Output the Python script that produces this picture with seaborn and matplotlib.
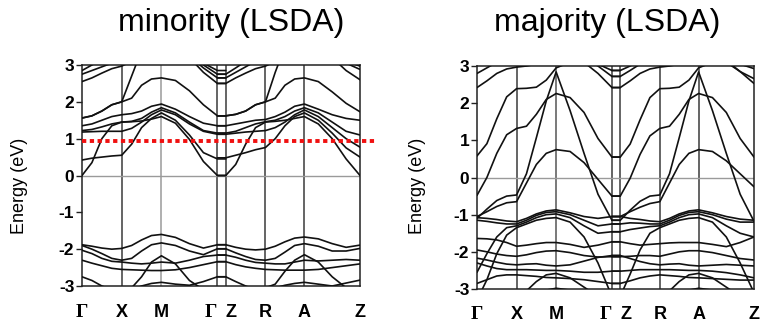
import matplotlib
matplotlib.use("Agg")
import matplotlib.pyplot as plt
import numpy as np
import pandas as pd
import seaborn as sns

# ---- high-symmetry path -------------------------------------------------
KPOINT_LABELS = ["Γ", "X", "M", "Γ", "Z", "R", "A", "Z"]
KPOINT_POS = [0.0, 1.0, 2.0, 3.41, 3.62, 4.62, 5.60, 7.00]
Y_TICKS = [-3, -2, -1, 0, 1, 2, 3]
FERMI_MARK = 0.93  # dotted level on the minority panel

# ---- minority spin: branch Γ-X-M-Γ (node, ¼, ½, ¾, node, ...) -----------
min_a1 = [0.00, 0.35, 1.00, 1.35, 1.45, 1.46, 1.48, 1.53, 1.60, 1.42, 0.98, 0.38, 0.00]
min_a2 = [0.42, 0.47, 0.50, 0.53, 0.55, 0.85, 1.30, 1.55, 1.70, 1.50, 1.10, 0.62, 0.45]
min_a3 = [1.18, 1.19, 1.20, 1.20, 1.20, 1.28, 1.45, 1.65, 1.78, 1.65, 1.40, 1.20, 1.12]
min_a4 = [1.22, 1.25, 1.32, 1.40, 1.45, 1.47, 1.55, 1.72, 1.84, 1.70, 1.45, 1.22, 1.15]
min_a5 = [1.35, 1.40, 1.50, 1.60, 1.65, 1.68, 1.75, 1.88, 1.94, 1.80, 1.60, 1.42, 1.35]
min_a6 = [1.56, 1.62, 1.75, 1.92, 2.00, 2.10, 2.45, 2.62, 2.65, 2.58, 2.30, 1.92, 1.62]
min_a7 = [1.56, 1.62, 1.75, 1.92, 2.00, 2.70, 3.40, 3.70, 3.80, 3.70, 3.40, 3.05, 2.85]
min_a8 = [2.55, 2.65, 2.78, 2.90, 2.97, 3.10, 3.30, 3.50, 3.60, 3.50, 3.20, 2.80, 2.50]
min_a9 = [2.75, 2.85, 2.95, 3.05, 3.15, 3.30, 3.50, 3.60, 3.60, 3.50, 3.25, 2.92, 2.65]
min_a10 = [2.85, 3.00, 3.15, 3.30, 3.40, 3.50, 3.60, 3.60, 3.60, 3.50, 3.30, 3.00, 2.75]
min_v1 = [-1.88, -1.92, -1.97, -2.00, -1.98, -1.90, -1.75, -1.63, -1.60, -1.68, -1.85, -1.97, -1.88]
min_v2 = [-1.90, -2.00, -2.12, -2.25, -2.30, -2.25, -2.05, -1.88, -1.83, -1.90, -2.05, -2.15, -1.99]
min_v3 = [-2.03, -2.12, -2.25, -2.33, -2.35, -2.38, -2.40, -2.38, -2.35, -2.38, -2.30, -2.20, -2.16]
min_v4 = [-2.30, -2.38, -2.45, -2.52, -2.55, -2.56, -2.57, -2.58, -2.58, -2.56, -2.50, -2.42, -2.34]
min_v5 = [-2.75, -2.85, -3.00, -3.10, -3.15, -3.10, -3.00, -2.93, -2.90, -2.95, -2.98, -2.88, -2.75]
min_v6 = [-3.30, -3.30, -3.25, -3.20, -3.10, -3.05, -2.75, -2.35, -2.18, -2.40, -2.85, -3.10, -3.20]

# ---- minority spin: branch Z-R-A-Z ---------------------------------------
min_b1 = [0.00, 0.30, 0.85, 1.30, 1.45, 1.47, 1.50, 1.55, 1.60, 1.40, 1.00, 0.45, 0.00]
min_b2 = [0.48, 0.55, 0.62, 0.70, 0.76, 1.00, 1.35, 1.60, 1.70, 1.50, 1.15, 0.75, 0.50]
min_b3 = [1.12, 1.15, 1.18, 1.20, 1.22, 1.30, 1.45, 1.65, 1.78, 1.60, 1.30, 1.00, 0.77]
min_b4 = [1.15, 1.20, 1.30, 1.40, 1.46, 1.50, 1.60, 1.75, 1.84, 1.70, 1.45, 1.20, 1.10]
min_b5 = [1.35, 1.40, 1.45, 1.50, 1.52, 1.60, 1.72, 1.88, 1.94, 1.80, 1.65, 1.55, 1.50]
min_b6 = [1.62, 1.66, 1.75, 1.92, 2.00, 2.10, 2.45, 2.62, 2.65, 2.55, 2.27, 1.96, 1.73]
min_b7 = [1.62, 1.66, 1.75, 1.92, 2.00, 2.80, 3.50, 3.80, 3.80, 3.70, 3.40, 3.05, 2.88]
min_b8 = [2.50, 2.65, 2.78, 2.90, 2.97, 3.10, 3.30, 3.50, 3.60, 3.50, 3.20, 2.85, 2.60]
min_b9 = [2.65, 2.80, 2.95, 3.10, 3.20, 3.35, 3.50, 3.60, 3.60, 3.50, 3.25, 3.10, 2.97]
min_b10 = [2.75, 2.92, 3.10, 3.30, 3.40, 3.50, 3.60, 3.60, 3.60, 3.50, 3.30, 3.15, 3.05]
min_w1 = [-1.88, -1.95, -2.00, -2.02, -2.00, -1.92, -1.80, -1.70, -1.67, -1.72, -1.85, -1.95, -1.89]
min_w2 = [-1.99, -2.10, -2.20, -2.28, -2.30, -2.25, -2.08, -1.90, -1.85, -1.92, -2.05, -2.05, -1.98]
min_w3 = [-2.16, -2.22, -2.30, -2.36, -2.38, -2.40, -2.40, -2.35, -2.30, -2.32, -2.30, -2.28, -2.30]
min_w4 = [-2.34, -2.42, -2.48, -2.52, -2.55, -2.56, -2.57, -2.57, -2.57, -2.55, -2.50, -2.45, -2.40]
min_w5 = [-2.75, -2.88, -3.00, -3.10, -3.12, -3.05, -2.98, -2.93, -2.90, -2.95, -3.00, -2.92, -2.84]
min_w6 = [-3.20, -3.25, -3.20, -3.15, -3.05, -2.95, -2.60, -2.30, -2.15, -2.35, -2.75, -3.05, -3.20]

# ---- majority spin: branch Γ-X-M-Γ ---------------------------------------
maj_p1 = [0.58, 0.91, 1.58, 2.17, 2.39, 2.40, 2.43, 2.62, 2.95, 3.10, 3.20, 3.05, 2.88]
maj_p2 = [-0.48, 0.00, 0.65, 1.15, 1.32, 1.38, 1.70, 2.10, 2.26, 2.15, 1.75, 1.05, 0.55]
maj_p3 = [-1.05, -0.92, -0.78, -0.68, -0.65, -0.15, 0.35, 0.65, 0.75, 0.70, 0.40, -0.05, -0.50]
maj_p4 = [-1.10, -0.85, -0.62, -0.50, -0.47, 0.10, 1.07, 2.06, 2.84, 1.80, 0.65, -0.45, -1.15]
maj_p5 = [2.42, 2.60, 2.80, 2.92, 2.97, 3.00, 3.05, 3.20, 3.30, 3.30, 3.20, 3.00, 2.72]
maj_p6 = [2.80, 2.95, 3.10, 3.20, 3.30, 3.40, 3.40, 3.40, 3.40, 3.30, 3.10, 2.80, 2.42]
maj_q1 = [-1.08, -1.10, -1.13, -1.17, -1.19, -1.10, -0.98, -0.90, -0.87, -0.95, -1.05, -1.10, -1.05]
maj_q2 = [-1.15, -1.18, -1.22, -1.25, -1.25, -1.15, -1.02, -0.94, -0.92, -1.00, -1.15, -1.30, -1.25]
maj_q3 = [-2.55, -2.05, -1.60, -1.35, -1.30, -1.20, -1.08, -1.00, -0.98, -1.08, -1.30, -1.50, -1.46]
maj_q4 = [-3.30, -2.75, -2.05, -1.55, -1.35, -1.25, -1.15, -1.10, -1.08, -1.20, -1.60, -2.30, -3.20]
maj_q5 = [-1.64, -1.65, -1.68, -1.75, -1.85, -1.82, -1.78, -1.75, -1.75, -1.80, -1.88, -1.82, -1.73]
maj_q6 = [-1.95, -2.00, -2.06, -2.10, -2.12, -2.08, -2.02, -1.98, -1.97, -2.02, -2.10, -2.14, -2.13]
maj_q7 = [-2.17, -2.22, -2.28, -2.33, -2.35, -2.33, -2.32, -2.36, -2.38, -2.35, -2.25, -2.15, -2.10]
maj_q8 = [-2.30, -2.38, -2.45, -2.48, -2.48, -2.48, -2.49, -2.50, -2.50, -2.52, -2.55, -2.55, -2.52]
maj_q9 = [-2.85, -2.75, -2.65, -2.62, -2.62, -2.64, -2.66, -2.69, -2.70, -2.72, -2.75, -2.80, -2.85]
maj_q10 = [-3.30, -3.30, -3.30, -3.25, -3.20, -3.05, -2.80, -2.62, -2.58, -2.70, -2.95, -3.20, -3.30]
maj_q11 = [-3.40, -3.40, -3.40, -3.40, -3.40, -3.30, -3.15, -3.03, -2.98, -3.03, -3.20, -3.40, -3.40]

# ---- majority spin: branch Z-R-A-Z ---------------------------------------
maj_r1 = [0.55, 0.90, 1.55, 2.15, 2.39, 2.40, 2.43, 2.62, 2.95, 3.10, 3.20, 3.05, 2.93]
maj_r2 = [-0.50, -0.02, 0.62, 1.12, 1.32, 1.38, 1.70, 2.10, 2.26, 2.15, 1.75, 1.05, 0.55]
maj_r3 = [-1.05, -0.92, -0.80, -0.70, -0.65, -0.15, 0.35, 0.65, 0.75, 0.70, 0.45, 0.10, -0.25]
maj_r4 = [-1.15, -0.88, -0.64, -0.50, -0.47, 0.10, 1.07, 2.06, 2.84, 1.80, 0.65, -0.45, -1.18]
maj_r5 = [2.42, 2.60, 2.80, 2.92, 2.97, 3.00, 3.05, 3.20, 3.30, 3.30, 3.15, 2.85, 2.53]
maj_r6 = [2.72, 2.88, 3.05, 3.20, 3.30, 3.40, 3.40, 3.40, 3.40, 3.30, 3.10, 2.85, 2.66]
maj_r7 = [2.88, 3.00, 3.15, 3.30, 3.40, 3.40, 3.40, 3.40, 3.40, 3.30, 3.15, 3.05, 3.05]
maj_s1 = [-1.05, -1.10, -1.13, -1.17, -1.19, -1.10, -0.98, -0.90, -0.87, -0.95, -1.05, -1.12, -1.15]
maj_s2 = [-1.25, -1.22, -1.23, -1.25, -1.25, -1.15, -1.02, -0.94, -0.92, -1.00, -1.12, -1.20, -1.20]
maj_s3 = [-1.46, -1.40, -1.36, -1.32, -1.30, -1.20, -1.08, -1.00, -0.98, -1.08, -1.30, -1.50, -1.60]
maj_s4 = [-3.20, -2.60, -1.95, -1.50, -1.35, -1.25, -1.15, -1.10, -1.08, -1.20, -1.60, -2.30, -3.10]
maj_s5 = [-1.73, -1.78, -1.82, -1.80, -1.78, -1.76, -1.75, -1.75, -1.75, -1.80, -1.86, -1.75, -1.60]
maj_s6 = [-2.13, -2.12, -2.10, -2.10, -2.12, -2.06, -2.00, -1.97, -1.97, -2.02, -2.10, -2.18, -2.22]
maj_s7 = [-2.10, -2.18, -2.26, -2.32, -2.35, -2.33, -2.32, -2.36, -2.38, -2.36, -2.34, -2.36, -2.38]
maj_s8 = [-2.52, -2.50, -2.48, -2.48, -2.48, -2.48, -2.49, -2.50, -2.50, -2.52, -2.56, -2.62, -2.70]
maj_s9 = [-2.85, -2.78, -2.70, -2.65, -2.62, -2.64, -2.66, -2.69, -2.70, -2.72, -2.74, -2.76, -2.76]
maj_s10 = [-3.30, -3.30, -3.30, -3.25, -3.20, -3.05, -2.80, -2.62, -2.58, -2.70, -2.95, -3.20, -3.30]
maj_s11 = [-3.40, -3.40, -3.40, -3.40, -3.40, -3.30, -3.15, -3.03, -2.98, -3.03, -3.20, -3.40, -3.40]

MIN_FIRST = [min_a1, min_a2, min_a3, min_a4, min_a5, min_a6, min_a7, min_a8, min_a9, min_a10,
             min_v1, min_v2, min_v3, min_v4, min_v5, min_v6]
MIN_SECOND = [min_b1, min_b2, min_b3, min_b4, min_b5, min_b6, min_b7, min_b8, min_b9, min_b10,
              min_w1, min_w2, min_w3, min_w4, min_w5, min_w6]
MAJ_FIRST = [maj_p1, maj_p2, maj_p3, maj_p4, maj_p5, maj_p6,
             maj_q1, maj_q2, maj_q3, maj_q4, maj_q5, maj_q6, maj_q7, maj_q8, maj_q9, maj_q10, maj_q11]
MAJ_SECOND = [maj_r1, maj_r2, maj_r3, maj_r4, maj_r5, maj_r6, maj_r7,
              maj_s1, maj_s2, maj_s3, maj_s4, maj_s5, maj_s6, maj_s7, maj_s8, maj_s9, maj_s10, maj_s11]


def quarter_path(nodes):
    """k positions at each node and at the quarter points between them."""
    ks = [nodes[0]]
    for a, b in zip(nodes[:-1], nodes[1:]):
        ks += [a + (b - a) * f for f in (0.25, 0.5, 0.75, 1.0)]
    return ks


def band_frame(first, second):
    k1 = quarter_path(KPOINT_POS[0:4]) + [KPOINT_POS[4]]
    k2 = [KPOINT_POS[3]] + quarter_path(KPOINT_POS[4:8])
    rows = []
    for i, e in enumerate(first):
        vals = list(e) + [e[-1]]          # flat across the short Γ-Z step
        rows += [(f"a{i}", k, v) for k, v in zip(k1, vals)]
    for i, e in enumerate(second):
        vals = [e[0]] + list(e)
        rows += [(f"b{i}", k, v) for k, v in zip(k2, vals)]
    return pd.DataFrame(rows, columns=["band", "k", "E"])


sns.set_style("white")
plt.rcParams["font.family"] = ["Liberation Sans", "DejaVu Sans"]
plt.rcParams["axes.unicode_minus"] = False
plt.rcParams["text.color"] = "black"
plt.rcParams["xtick.color"] = "black"
plt.rcParams["ytick.color"] = "black"

W, H = 762, 326
fig = plt.figure(figsize=(W / 100, H / 100), dpi=100, facecolor="white")


def px_axes(x0, x1, y0, y1):
    return fig.add_axes([x0 / W, 1 - y1 / H, (x1 - x0) / W, (y1 - y0) / H])


panels = [
    dict(ax=px_axes(82, 360, 65, 286), first=MIN_FIRST, second=MIN_SECOND,
         title="minority (LSDA)", tx=231, ylx=20, m_color="#9a9a9a", fermi=True, xpad=13),
    dict(ax=px_axes(477, 754, 66, 289), first=MAJ_FIRST, second=MAJ_SECOND,
         title="majority (LSDA)", tx=607, ylx=417, m_color="#555555", fermi=False, xpad=12),
]

for p in panels:
    ax = p["ax"]
    ax.set_xlim(KPOINT_POS[0], KPOINT_POS[-1])
    ax.set_ylim(-3, 3)

    # guide lines at the symmetry points and at zero
    for i, k in enumerate(KPOINT_POS[1:-1], start=1):
        col = p["m_color"] if KPOINT_LABELS[i] == "M" else "#3a3a3a"
        ax.axvline(k, color=col, lw=1.1, zorder=1)
    ax.axhline(0, color="#9a9a9a", lw=1.0, zorder=1)

    df = band_frame(p["first"], p["second"])
    sns.lineplot(data=df, x="k", y="E", units="band", estimator=None, sort=False,
                 color="#111111", lw=1.2, ax=ax, legend=False, zorder=3)

    if p["fermi"]:
        ax.axhline(FERMI_MARK, xmin=0, xmax=(376 - 82) / 278, color="#f01010", lw=2.8,
                   linestyle=(0, (1.1, 0.9)), clip_on=False, zorder=5)

    ax.set_xlabel("")
    ax.set_ylabel("")
    ax.set_yticks(Y_TICKS)
    ax.set_yticklabels([str(t) for t in Y_TICKS], fontsize=12.5, fontweight="bold",
                       color="black")
    ax.tick_params(axis="y", which="major", direction="out", length=4, width=1,
                   pad=1.5, left=True, color="#222222")
    ax.set_xticks(KPOINT_POS)
    ax.set_xticklabels(KPOINT_LABELS, fontsize=13, fontweight="bold", color="black")
    ax.tick_params(axis="x", length=0, pad=p["xpad"])
    for i, lab in enumerate(ax.get_xticklabels()):
        if KPOINT_LABELS[i] == "Γ":
            lab.set_family(["Liberation Serif", "DejaVu Serif"])
            lab.set_fontsize(14)
        if i == 3:
            lab.set_ha("right")
        if i == 4:
            lab.set_ha("left")

    for s in ax.spines.values():
        s.set_visible(True)
        s.set_color("#222222")
        s.set_linewidth(1.1)

    fig.text(p["tx"] / W, 1 - 31 / H, p["title"], ha="center", va="baseline",
             fontsize=23, color="black")
    fig.text(p["ylx"] / W, 1 - 186 / H, "Energy (eV)", rotation=90, ha="center",
             va="center", fontsize=13, color="black")

fig.savefig("out.png", dpi=100, facecolor="white")
